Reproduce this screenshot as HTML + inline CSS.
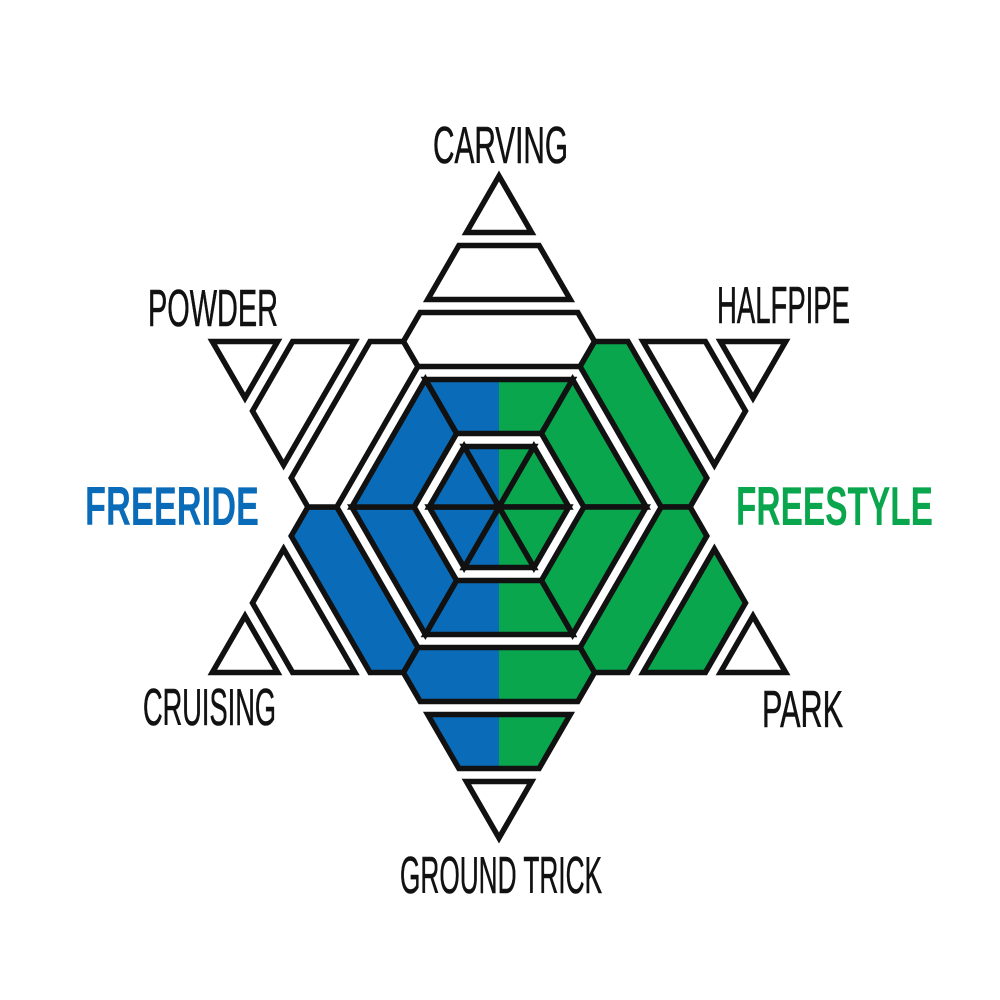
<!DOCTYPE html>
<html><head><meta charset="utf-8"><style>
html,body{margin:0;padding:0;background:#fff;}
svg{display:block;}
.l{font-family:"Liberation Sans Narrow","Liberation Sans",sans-serif;font-size:52px;fill:#111;stroke:#111;stroke-width:0.6;}
.b{font-family:"Liberation Sans Narrow","Liberation Sans",sans-serif;font-size:55px;font-weight:bold;}
</style></head><body>
<svg id="s" width="1000" height="1000" viewBox="0 0 1000 1000" xmlns="http://www.w3.org/2000/svg">
<defs>
<linearGradient id="split" gradientUnits="userSpaceOnUse" x1="0" y1="0" x2="1000" y2="0">
<stop offset="0.499" stop-color="#0a6cb8"/><stop offset="0.499" stop-color="#0aa64e"/>
</linearGradient>
</defs>
<g id="g"></g>
<text class="l" x="433" y="163" textLength="135" lengthAdjust="spacingAndGlyphs">CARVING</text>
<text class="l" x="148" y="326" textLength="130" lengthAdjust="spacingAndGlyphs">POWDER</text>
<text class="l" x="717" y="323" textLength="133" lengthAdjust="spacingAndGlyphs">HALFPIPE</text>
<text class="b" x="85" y="525" fill="#0a6cb8" textLength="174" lengthAdjust="spacingAndGlyphs">FREERIDE</text>
<text class="b" x="736" y="525" fill="#0aa64e" textLength="197" lengthAdjust="spacingAndGlyphs">FREESTYLE</text>
<text class="l" x="143" y="725" textLength="133" lengthAdjust="spacingAndGlyphs">CRUISING</text>
<text class="l" x="762" y="727" textLength="81" lengthAdjust="spacingAndGlyphs">PARK</text>
<text class="l" x="400" y="893" textLength="202" lengthAdjust="spacingAndGlyphs">GROUND TRICK</text>
</svg>
<script>
(function(){
var cx=499,cy=507,u=67,g=6.5,e=2,r3=Math.sqrt(3);
var B="#0a6cb8",G="#0aa64e",W="#fff",S="url(#split)";
var secs=[
 {p:-90,c:[S,S,W,W,W]},
 {p:-30,c:[G,G,G,W,W]},
 {p:30,c:[G,G,G,G,W]},
 {p:90,c:[S,S,S,S,W]},
 {p:150,c:[B,B,B,W,W]},
 {p:210,c:[B,B,W,W,W]}
];
function arm(t){return (5*u-2*e-t)/r3;}
function rad(t){return t/r3;}
var out="";
secs.forEach(function(sc){
 var f=sc.p*Math.PI/180,ax=Math.cos(f),ay=Math.sin(f),bx=-ay,by=ax;
 function P(s,t){return (cx+t*ax+s*bx).toFixed(1)+","+(cy+t*ay+s*by).toFixed(1);}
 function poly(side){ // side: list of [s,t] for right side (s>=0) from bottom to top
   var pts=[];
   side.forEach(function(q){pts.push(P(q[0],q[1]));});
   for(var i=side.length-1;i>=0;i--){ if(side[i][0]>0) pts.push(P(-side[i][0],side[i][1])); }
   return pts.join(" ");
 }
 var shapes=[];
 var t1=u-g; shapes.push(poly([[0,0],[rad(t1),t1]]));
 var a=u+g,b=2*u-g; shapes.push(poly([[rad(a),a],[rad(b),b]]));
 a=2*u+g;b=3*u-g;var m=2.5*u-e; shapes.push(poly([[rad(a),a],[rad(m),m],[arm(b),b]]));
 a=3*u+g;b=4*u-g; shapes.push(poly([[arm(a),a],[arm(b),b]]));
 a=4*u+g;b=5*u-2*e; shapes.push(poly([[arm(a),a],[0,b]]));
 shapes.forEach(function(pts,i){
   out+='<polygon points="'+pts+'" fill="'+sc.c[i]+'" stroke="#111" stroke-width="5.5" stroke-linejoin="miter"/>';
 });
});
document.getElementById("g").innerHTML=out;
})();
</script>
</body></html>
